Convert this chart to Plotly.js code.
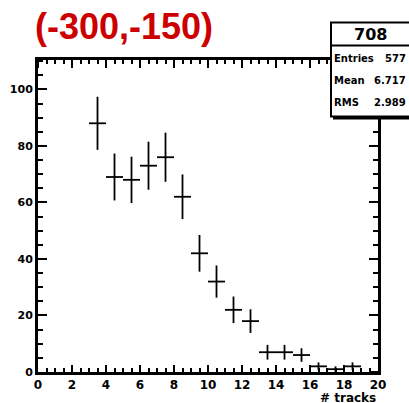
<!DOCTYPE html>
<html>
<head>
<meta charset="utf-8">
<script src="https://cdn.plot.ly/plotly-3.0.1.min.js"></script>
<style>html,body{margin:0;padding:0;background:#fff;}#chart{width:409px;height:403px;}</style>
</head>
<body>
<div id="chart"></div>
<script>
// Histogram "708": bin centres, counts and statistical errors
var binCenters = [3.5, 4.5, 5.5, 6.5, 7.5, 8.5, 9.5, 10.5, 11.5, 12.5, 13.5, 14.5, 15.5, 16.5, 17.5, 18.5];
var counts     = [88, 69, 68, 73, 76, 62, 42, 32, 22, 18, 7, 7, 6, 2, 1, 2];
var countErrors= [9.4, 8.3, 8.2, 8.5, 8.7, 7.9, 6.5, 5.7, 4.7, 4.2, 2.6, 2.6, 2.4, 1.4, 1.0, 1.4];
var binHalfWidth = 0.5;

var histTitle = "(-300,-150)";
var statsName = "708";
var statsLabels = ["Entries", "Mean", "RMS"];
var statsValues = ["577", "6.717", "2.989"];
var xTitle = "# tracks";

var xRange = [0, 20];
var yRange = [0, 110.4];

var trace = {
  x: binCenters,
  y: counts,
  type: "scatter",
  mode: "markers",
  marker: {size: 1, color: "#000"},
  error_x: {type: "constant", value: binHalfWidth, width: 0, thickness: 1.8, color: "#000"},
  error_y: {type: "data", array: countErrors, visible: true, width: 0, thickness: 1.8, color: "#000"}
};

function px2x(px){ return (px - 38) / 340; }
function py2y(py){ return (372 - py) / 311.5; }

var annotations = [
  {text: histTitle, xref: "paper", yref: "paper", x: px2x(33), y: py2y(27), xanchor: "left", yanchor: "middle",
   showarrow: false, font: {family: "Liberation Sans", size: 36, color: "#cc0000", weight: "bold"}},
  {text: statsName, xref: "paper", yref: "paper", x: px2x(370), y: py2y(35), xanchor: "center", yanchor: "middle",
   showarrow: false, font: {family: "DejaVu Sans", size: 16, color: "#000", weight: "bold"}},
  {text: xTitle, xref: "paper", yref: "paper", x: 1.0, y: py2y(398), xanchor: "right", yanchor: "middle",
   showarrow: false, font: {family: "DejaVu Sans", size: 12, color: "#000", weight: "bold"}}
];
var rowY = [59, 81, 103];
for (var i = 0; i < statsLabels.length; i++) {
  annotations.push({text: statsLabels[i], xref: "paper", yref: "paper", x: px2x(332), y: py2y(rowY[i]),
    xanchor: "left", yanchor: "middle", showarrow: false,
    font: {family: "DejaVu Sans", size: 10, color: "#000", weight: "bold"}});
  annotations.push({text: statsValues[i], xref: "paper", yref: "paper", x: px2x(408), y: py2y(rowY[i]),
    xanchor: "right", yanchor: "middle", showarrow: false,
    font: {family: "DejaVu Sans", size: 10, color: "#000", weight: "bold"}});
}

var shapes = [
  {type: "rect", xref: "paper", yref: "paper", x0: px2x(331), x1: px2x(420), y0: py2y(117), y1: py2y(23),
   line: {color: "#000", width: 2}, fillcolor: "#fff", layer: "above"},
  {type: "line", xref: "paper", yref: "paper", x0: px2x(331), x1: px2x(420), y0: py2y(46), y1: py2y(46),
   line: {color: "#000", width: 2}, layer: "above"},
  {type: "line", xref: "paper", yref: "paper", x0: px2x(333), x1: px2x(420), y0: py2y(118.5), y1: py2y(118.5),
   line: {color: "#000", width: 3}, layer: "above"}
];

var layout = {
  width: 409, height: 403,
  margin: {l: 38, r: 31, t: 60, b: 31, pad: 0},
  showlegend: false,
  xaxis: {range: xRange, dtick: 2, tick0: 0, ticks: "inside", ticklen: 7, tickwidth: 2, tickcolor: "#000",
    minor: {dtick: 0.5, ticks: "inside", ticklen: 4, tickwidth: 2, tickcolor: "#000"},
    showline: true, linewidth: 3, linecolor: "#000", mirror: "ticks", showgrid: false, zeroline: false,
    tickfont: {family: "DejaVu Sans", size: 12, color: "#000", weight: "bold"}},
  yaxis: {range: yRange, dtick: 20, tick0: 0, ticks: "inside", ticklen: 9, tickwidth: 2, tickcolor: "#000",
    minor: {dtick: 5, ticks: "inside", ticklen: 5, tickwidth: 2, tickcolor: "#000"},
    showline: true, linewidth: 3, linecolor: "#000", mirror: "ticks", showgrid: false, zeroline: false,
    tickfont: {family: "DejaVu Sans", size: 11, color: "#000", weight: "bold"}},
  annotations: annotations,
  shapes: shapes
};

Plotly.newPlot("chart", [trace], layout, {displayModeBar: false, staticPlot: true}).then(function(gd){
  // ROOT-style tick marks on the top and right frame edges, placed through the axes' own scales
  try {
    var ns = "http://www.w3.org/2000/svg";
    var xa = gd._fullLayout.xaxis, ya = gd._fullLayout.yaxis;
    var svgs = gd.querySelectorAll("svg.main-svg");
    var svg = svgs[svgs.length - 1];
    var g = document.createElementNS(ns, "g");
    var boxLeft = 330, boxBottom = 120;
    function seg(x1, y1, x2, y2){
      var l = document.createElementNS(ns, "line");
      l.setAttribute("x1", x1); l.setAttribute("y1", y1);
      l.setAttribute("x2", x2); l.setAttribute("y2", y2);
      l.setAttribute("stroke", "#000"); l.setAttribute("stroke-width", "2");
      l.setAttribute("shape-rendering", "crispEdges");
      g.appendChild(l);
    }
    var topY = ya._offset, rightX = xa._offset + xa._length;
    for (var k = 0; k <= 40; k++) {
      var v = xRange[0] + k * 0.5;
      var px = xa._offset + xa.l2p(v);
      var major = (k % 4 === 0);
      if (px < boxLeft - 1) seg(px, topY, px, topY + (major ? 8 : 3));
    }
    for (var j = 0; 5 * j <= yRange[1]; j++) {
      var w = 5 * j;
      var py = ya._offset + ya.l2p(w);
      var majorY = (j % 4 === 0);
      if (py > boxBottom) seg(rightX, py, rightX - (majorY ? 8 : 4), py);
    }
    svg.appendChild(g);
  } catch (e) {}
});
</script>
</body>
</html>
